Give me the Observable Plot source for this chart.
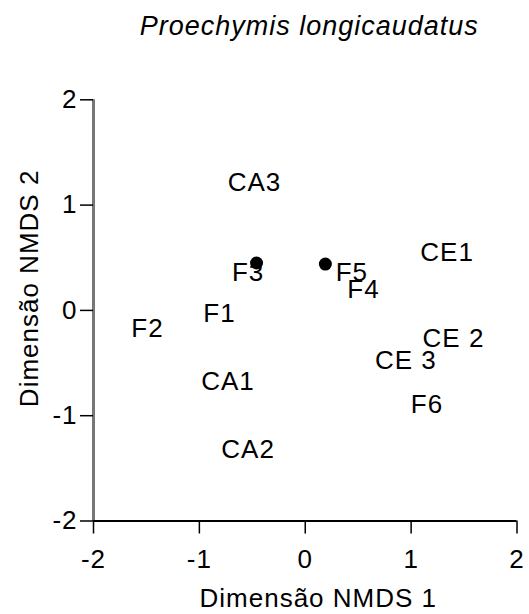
<!DOCTYPE html>
<html><head><meta charset="utf-8">
<script src="https://cdn.jsdelivr.net/npm/d3@7"></script>
<script src="https://cdn.jsdelivr.net/npm/@observablehq/plot@0.6"></script>
<style>body{margin:0;background:#fff}</style>
</head><body><div id="chart"></div>
<script>
const title = "Proechymis longicaudatus";
const xLabel = "Dimensão NMDS 1";
const yLabel = "Dimensão NMDS 2";
const tickValues = [-2, -1, 0, 1, 2];
const siteNames = ["CA3", "F3", "F5", "F4", "CE1", "CE 2", "CE 3", "F6", "F1", "F2", "CA1", "CA2"];
const siteX = [-0.48, -0.54, 0.44, 0.55, 1.34, 1.40, 0.95, 1.15, -0.81, -1.49, -0.73, -0.54];
const siteY = [1.21, 0.36, 0.36, 0.20, 0.55, -0.27, -0.48, -0.90, -0.03, -0.17, -0.68, -1.32];
const dotX = [-0.46, 0.19];
const dotY = [0.45, 0.44];

const sites = siteNames.map((name, i) => ({name, x: siteX[i], y: siteY[i]}));
const dots = dotX.map((x, i) => ({x, y: dotY[i]}));
const fmt = d => String(d);

const chart = Plot.plot({
  width: 529,
  height: 614,
  marginLeft: 93,
  marginRight: 12.5,
  marginTop: 99.3,
  marginBottom: 93.5,
  style: {fontFamily: "'Liberation Sans', Arial, sans-serif", fontSize: "26px", letterSpacing: "1px", background: "#fff", color: "#000"},
  x: {domain: [-2, 2]},
  y: {domain: [-2, 2]},
  marks: [
    Plot.ruleX([-2], {stroke: "#777", strokeWidth: 3}),
    Plot.ruleY([-2], {stroke: "#000", strokeWidth: 2}),
    Plot.axisX(tickValues, {tickSize: 13, tickPadding: 16, strokeWidth: 1.5, tickFormat: fmt, label: null}),
    Plot.axisY(tickValues, {tickSize: 13, tickPadding: 3, strokeWidth: 1.5, tickFormat: fmt, label: null}),
    Plot.dot(dots, {x: "x", y: "y", r: 6.5, fill: "#000"}),
    Plot.text(sites, {x: "x", y: "y", text: "name", lineAnchor: "middle"}),
    Plot.text([xLabel], {text: d => d, frameAnchor: "bottom", textAnchor: "middle", dx: 13, dy: 86, lineAnchor: "bottom"}),
    Plot.text([yLabel], {text: d => d, frameAnchor: "left", textAnchor: "middle", rotate: -90, dx: -56, dy: -22, lineAnchor: "bottom"}),
    Plot.text([title], {text: d => d, frameAnchor: "top", textAnchor: "middle", dx: 4, dy: -65, lineAnchor: "bottom", fontStyle: "italic", fontSize: 27})
  ]
});
document.getElementById("chart").appendChild(chart);
</script>
</body></html>
